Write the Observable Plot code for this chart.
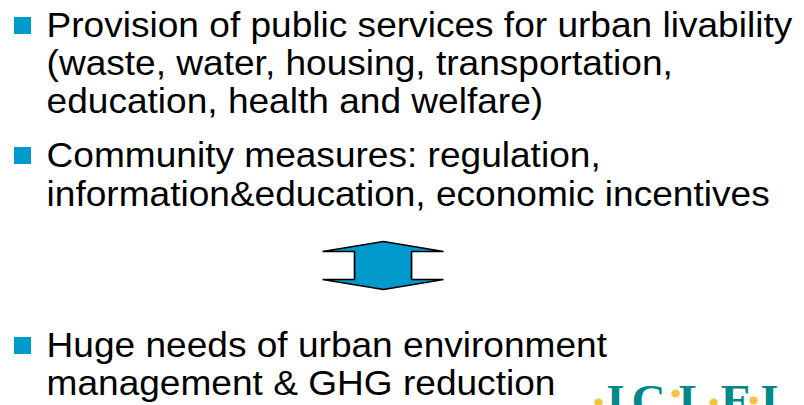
<!DOCTYPE html>
<html>
<head>
<meta charset="utf-8">
<script src="https://cdn.jsdelivr.net/npm/d3@7"></script>
<script src="https://cdn.jsdelivr.net/npm/@observablehq/plot@0.6"></script>
<style>
  html, body { margin: 0; padding: 0; background: #ffffff; overflow: hidden; }
  #chart svg { display: block; }
</style>
</head>
<body>
<div id="chart"></div>
<script>
// Text lines of the slide and their baselines (picture pixels)
const lineTexts = [
  "Provision of public services for urban livability",
  "(waste, water, housing, transportation,",
  "education, health and welfare)",
  "Community measures: regulation,",
  "information&education, economic incentives",
  "Huge needs of urban environment",
  "management & GHG reduction"
];
const lineBaselines = [36, 74, 112, 166, 205, 356, 394];
const textLeft = 46;

// Bullet squares (top edges)
const bulletTops = [17, 147, 337];
const bulletLeft = 14;
const bulletSize = 17;

// Double-headed arrow outline
const arrowX = [383, 443, 411, 411, 443, 383, 322, 354, 354, 322, 383];
const arrowY = [241, 251, 251, 279, 279, 289, 279, 279, 251, 251, 241];

// ICLEI logo (partially cut at bottom)
const logoLetters = ["I", "C", "L", "E", "I"];
const logoX = [615, 648, 694, 736, 769];
const logoBaseline = 414;
const dotX = [598, 675, 713, 753];
const dotY = [402, 393, 402, 400];

const lines = lineTexts.map((t, i) => ({text: t, baseline: lineBaselines[i]}));
const bullets = bulletTops.map(t => ({top: t}));
const arrow = arrowX.map((x, i) => ({x, y: arrowY[i]}));
const logo = logoLetters.map((l, i) => ({l, x: logoX[i]}));
const dots = dotX.map((x, i) => ({x, y: dotY[i]}));

const W = 804, H = 405;
const stretch = 1.075;
const W0 = Math.round(W / stretch);

const svg = Plot.plot({
  width: W0,
  height: H,
  margin: 0,
  x: {domain: [0, W], range: [0, W0], axis: null},
  y: {domain: [0, H], range: [0, H], axis: null},
  marks: [
    Plot.rect(bullets, {
      x1: () => bulletLeft, x2: () => bulletLeft + bulletSize,
      y1: "top", y2: d => d.top + bulletSize,
      fill: "#0099CC"
    }),
    Plot.text(lines, {
      x: () => textLeft, y: "baseline", text: "text",
      textAnchor: "start", lineAnchor: "bottom",
      fontSize: 34.5, fontFamily: "Liberation Sans, Arial, sans-serif",
      fill: "#000000"
    }),
    Plot.line(arrow, {
      x: "x", y: "y", fill: "#0099CC", stroke: "#000000",
      strokeWidth: 1.6, strokeLinejoin: "miter", curve: "linear"
    }),
    Plot.dot(dots, {x: "x", y: "y", r: 4, fill: "#F5C542", stroke: null}),
    Plot.text(logo, {
      x: "x", y: () => logoBaseline, text: "l",
      lineAnchor: "bottom", textAnchor: "middle",
      fontSize: 44, fontWeight: "bold",
      fontFamily: "Liberation Serif, Times New Roman, serif",
      fill: "#00898A"
    })
  ]
});

svg.setAttribute("width", W);
svg.setAttribute("height", H);
svg.setAttribute("preserveAspectRatio", "none");
svg.style.width = W + "px";
svg.style.height = H + "px";
svg.style.maxWidth = "none";
svg.style.background = "#ffffff";
document.getElementById("chart").appendChild(svg);
</script>
</body>
</html>
